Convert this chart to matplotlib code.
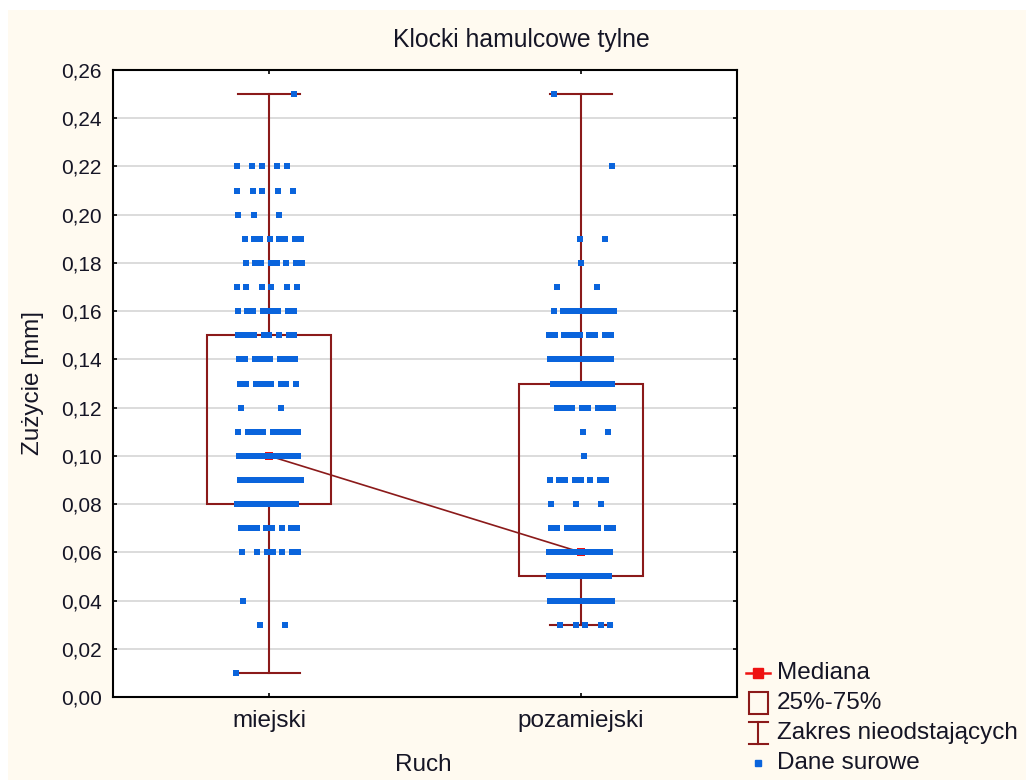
import numpy as np
import matplotlib.pyplot as plt
from matplotlib.patches import Rectangle
from matplotlib.lines import Line2D
from matplotlib.ticker import FuncFormatter

plt.rcParams['font.family'] = ['Liberation Sans', 'DejaVu Sans']

# ---- data ----
groups = ["miejski", "pozamiejski"]
levels = [0.01, 0.02, 0.03, 0.04, 0.05, 0.06, 0.07, 0.08, 0.09, 0.10, 0.11, 0.12, 0.13,
          0.14, 0.15, 0.16, 0.17, 0.18, 0.19, 0.20, 0.21, 0.22, 0.23, 0.24, 0.25]
counts_miejski = [1, 0, 2, 1, 0, 7, 9, 18, 16, 13, 11, 2, 9,
                  10, 9, 9, 6, 8, 8, 3, 5, 5, 0, 0, 1]
counts_pozamiejski = [0, 0, 5, 20, 14, 18, 11, 3, 8, 1, 2, 10, 14,
                      14, 10, 12, 2, 1, 2, 0, 0, 1, 0, 0, 1]

medians = [0.10, 0.06]
q1 = [0.08, 0.05]
q3 = [0.15, 0.13]
whisk_lo = [0.01, 0.03]
whisk_hi = [0.25, 0.25]

legend_labels = ["Mediana", "25%-75%", "Zakres nieodstających", "Dane surowe"]

box_col = '#8b1a1a'
pt_col = '#0a64dc'
med_col = '#ee1111'
txt_col = '#151525'
cream = '#fffaf0'

W, H = 1026, 780
fig = plt.figure(figsize=(W / 100, H / 100), dpi=100, facecolor='white')
fig.patches.append(Rectangle((8 / W, 0), 1, 1 - 10 / H, transform=fig.transFigure,
                             facecolor=cream, edgecolor='none', zorder=-10))
ax = fig.add_axes([113 / W, 1 - 697 / H, 624 / W, 627 / H])
ax.set_facecolor('white')

bw = 0.4
cap = 0.1
for i, name in enumerate(groups):
    ax.add_patch(Rectangle((i - bw / 2, q1[i]), bw, q3[i] - q1[i], facecolor='none',
                           edgecolor=box_col, lw=1.5, zorder=3))
    ax.plot([i, i], [q3[i], whisk_hi[i]], color=box_col, lw=1.5, zorder=3)
    ax.plot([i, i], [q1[i], whisk_lo[i]], color=box_col, lw=1.5, zorder=3)
    ax.plot([i - cap, i + cap], [whisk_hi[i], whisk_hi[i]], color=box_col, lw=1.5, zorder=3)
    ax.plot([i - cap, i + cap], [whisk_lo[i], whisk_lo[i]], color=box_col, lw=1.5, zorder=3)

# median line + markers
ax.plot([0, 1], medians, color=box_col, lw=1.2, zorder=3)
ax.scatter([0, 1], medians, marker='s', s=30, color=med_col, linewidths=0, zorder=4)

# raw data with deterministic spread
for i, cnts in enumerate([counts_miejski, counts_pozamiejski]):
    xs, ys = [], []
    for j, (lv, n) in enumerate(zip(levels, cnts)):
        k = np.arange(n)
        off = ((k * 0.6180339887 + 0.37 * j + 0.21 * i) % 1 - 0.5) * 0.21
        xs.extend(i + off)
        ys.extend([lv] * n)
    ax.scatter(xs, ys, marker='s', s=22, color=pt_col, linewidths=0, zorder=5)

ax.set_xlim(-0.5, 1.5)
ax.set_ylim(0, 0.26)
ax.set_yticks(np.arange(0, 0.261, 0.02))
ax.yaxis.set_major_formatter(FuncFormatter(lambda v, p: f"{v:.2f}".replace('.', ',')))
ax.set_xticks([0, 1])
ax.set_xticklabels(groups)
ax.tick_params(direction='in', length=3, width=1.2, top=True, right=True,
               colors='black', labelcolor=txt_col)
ax.tick_params(axis='y', labelsize=15, pad=8)
ax.tick_params(axis='x', labelsize=17.5, pad=9)
ax.grid(axis='y', color='#d9d9d9', lw=1.3, zorder=0)
ax.set_axisbelow(True)
for s in ax.spines.values():
    s.set_linewidth(1.5)

fig.text(521 / W, 1 - 40 / H, "Klocki hamulcowe tylne", fontsize=17.8, color=txt_col,
         ha='center', va='center')
fig.text(33 / W, 1 - 383 / H, "Zużycie [mm]", fontsize=17.5, color=txt_col,
         ha='center', va='center', rotation=90)
fig.text(423 / W, 1 - 765 / H, "Ruch", fontsize=17.5, color=txt_col, ha='center', va='center')

# legend (drawn in figure pixels)
def px(x, y):
    return x / W, 1 - y / H

rows = [673, 703, 733, 763]
hx = 758
fig.add_artist(Line2D([px(746, 0)[0], px(770, 0)[0]], [px(0, rows[0])[1]] * 2,
                      color=med_col, lw=1.8))
fig.add_artist(Line2D([px(hx, 0)[0]], [px(0, rows[0])[1]], color=med_col, marker='s',
                      markersize=6.5, lw=0))
fig.add_artist(Rectangle(px(749, rows[1] + 11), 19 / W, 22 / H, facecolor='none',
                         edgecolor=box_col, lw=1.5, transform=fig.transFigure))
y0, y1 = rows[2] - 11, rows[2] + 11
for xs_, ys_ in [([749, 768], [y0, y0]), ([749, 768], [y1, y1]), ([hx, hx], [y0, y1])]:
    fig.add_artist(Line2D([px(v, 0)[0] for v in xs_], [px(0, v)[1] for v in ys_],
                          color=box_col, lw=1.5))
fig.add_artist(Line2D([px(hx, 0)[0]], [px(0, rows[3])[1]], color=pt_col, marker='s',
                      markersize=4.5, lw=0))
for r, lab in zip(rows, legend_labels):
    fig.text(777 / W, 1 - r / H, lab, fontsize=17.5, color=txt_col, ha='left', va='center')

fig.savefig("out.png", dpi=100, facecolor=fig.get_facecolor())
